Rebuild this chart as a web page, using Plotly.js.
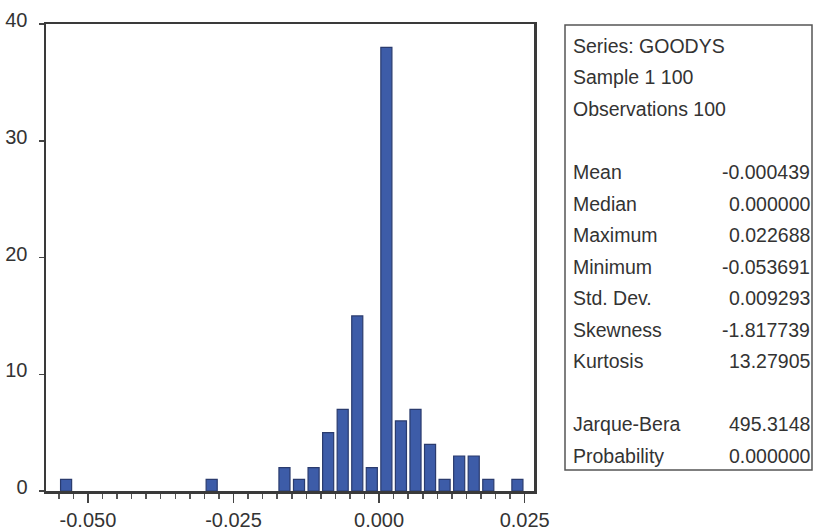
<!DOCTYPE html>
<html>
<head>
<meta charset="utf-8">
<script src="https://cdn.plot.ly/plotly-3.0.1.min.js"></script>
<style>html,body{margin:0;padding:0;background:#fff;}#chart{width:813px;height:529px;}</style>
</head>
<body>
<div id="chart"></div>
<script>
// Histogram data (bin centres, bin width 0.0025) and counts
const binCenters = [-0.05375, -0.02875, -0.01625, -0.01375, -0.01125, -0.00875, -0.00625, -0.00375, -0.00125,
                    0.00125, 0.00375, 0.00625, 0.00875, 0.01125, 0.01375, 0.01625, 0.01875, 0.02375];
const counts = [1, 1, 2, 1, 2, 5, 7, 15, 2, 38, 6, 7, 4, 1, 3, 3, 1, 1];

const xTickVals = [-0.05, -0.025, 0, 0.025];
const xTickText = ['-0.050', '-0.025', '0.000', '0.025'];
const yTickVals = [0, 10, 20, 30, 40];

// Statistics panel
const headerLines = ['Series: GOODYS', 'Sample 1 100', 'Observations 100'];
const statLabels = ['Mean', 'Median', 'Maximum', 'Minimum', 'Std. Dev.', 'Skewness', 'Kurtosis'];
const statValues = ['-0.000439', '0.000000', '0.022688', '-0.053691', '0.009293', '-1.817739', '13.27905'];
const testLabels = ['Jarque-Bera', 'Probability'];
const testValues = ['495.3148', '0.000000'];

// plot-area geometry (pixels)
const L = 46, R = 534, T = 24, B = 491, W = 813, H = 529;
const px = x => (x - L) / (R - L);
const py = y => (B - y) / (B - T);

const FONT = 'Liberation Sans, Arial, sans-serif';
const TXT = '#333333';

const annotations = [];
function addLine(text, xPix, yPix, anchor) {
  annotations.push({
    text: text, xref: 'paper', yref: 'paper', x: px(xPix), y: py(yPix),
    xanchor: anchor, yanchor: 'middle', showarrow: false,
    font: {family: FONT, size: 19.5, color: TXT}
  });
}
const lineStep = 31.5, firstLine = 46, labelX = 571, valueX = 812;
headerLines.forEach((t, i) => addLine(t, labelX, firstLine + i * lineStep, 'left'));
statLabels.forEach((t, i) => {
  addLine(t, labelX, firstLine + (4 + i) * lineStep, 'left');
  addLine(statValues[i], valueX, firstLine + (4 + i) * lineStep, 'right');
});
testLabels.forEach((t, i) => {
  addLine(t, labelX, firstLine + (12 + i) * lineStep, 'left');
  addLine(testValues[i], valueX, firstLine + (12 + i) * lineStep, 'right');
});

const shapes = [{
  type: 'rect', xref: 'paper', yref: 'paper',
  x0: px(565), x1: px(812), y0: py(470), y1: py(25),
  line: {color: '#555555', width: 1.5}, fillcolor: 'rgba(0,0,0,0)'
}];

const trace = {
  type: 'bar', x: binCenters, y: counts,
  marker: {color: '#3d5ca8', line: {color: '#2a3b6e', width: 1.2}},
  hoverinfo: 'skip'
};

const layout = {
  width: W, height: H,
  margin: {l: L, r: W - R, t: T, b: H - B, pad: 0},
  paper_bgcolor: '#ffffff', plot_bgcolor: '#ffffff',
  showlegend: false, bargap: 0.24,
  font: {family: FONT, size: 20, color: TXT},
  xaxis: {
    range: [-0.0572, 0.0266], tickmode: 'array', tickvals: xTickVals, ticktext: xTickText,
    ticks: 'outside', ticklen: 9, tickwidth: 1.5, tickcolor: '#444',
    minor: {dtick: 0.0025, tick0: 0, ticks: 'outside', ticklen: 5, tickwidth: 1.5, tickcolor: '#555', showgrid: false},
    showgrid: false, zeroline: false, showline: true, mirror: true, linewidth: 2.5, linecolor: '#3a3a3a',
    tickfont: {family: FONT, size: 20, color: TXT}, fixedrange: true
  },
  yaxis: {
    range: [0, 40], tickmode: 'array', tickvals: yTickVals,
    ticks: 'outside', ticklen: 5, tickwidth: 1.5, tickcolor: '#444',
    showgrid: false, zeroline: false, showline: true, mirror: true, linewidth: 2.5, linecolor: '#3a3a3a',
    tickfont: {family: FONT, size: 20, color: TXT}, ticklabelstandoff: 7, ticklabelshift: -4, fixedrange: true
  },
  shapes: shapes,
  annotations: annotations
};

Plotly.newPlot('chart', [trace], layout, {staticPlot: true, displayModeBar: false});
</script>
</body>
</html>
